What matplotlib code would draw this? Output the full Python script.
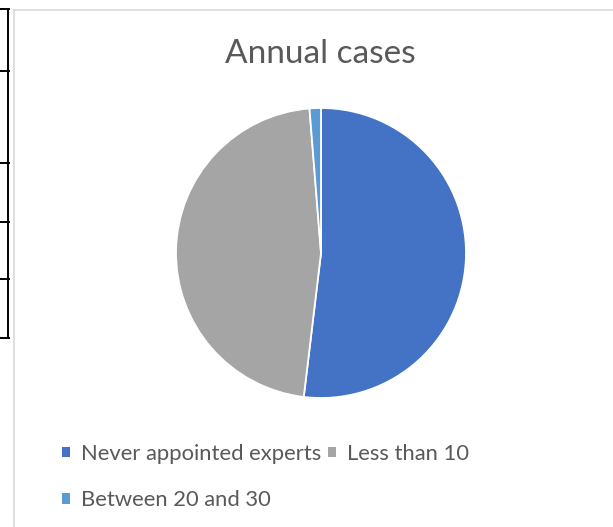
import matplotlib
matplotlib.use("Agg")
import matplotlib.pyplot as plt
from matplotlib.lines import Line2D

plt.rcParams['font.family'] = ['Lato', 'DejaVu Sans']

title = "Annual cases"
categories = ["Never appointed experts", "Less than 10", "Between 20 and 30"]
values = [41, 37, 1]
colors = ["#4472C4", "#A5A5A5", "#5B9BD5"]
text_color = "#595959"

W, H = 613, 527
fig = plt.figure(figsize=(W / 100, H / 100), dpi=100)

def fx(px):
    return px / W

def fy(py):
    return 1 - py / H

# pie axes: center (321, 253), radius 145
cx, cy, r = 321, 253, 145
ax = fig.add_axes([fx(cx - r), fy(cy + r), 2 * r / W, 2 * r / H])
wedges, _ = ax.pie(values, colors=colors, startangle=90, counterclock=False,
                   radius=1, wedgeprops=dict(edgecolor="white", linewidth=1.3))
ax.set_xlim(-1, 1)
ax.set_ylim(-1, 1)
ax.set_aspect("equal")
ax.axis("off")

# title
fig.text(fx(320), fy(63), title, ha="center", va="baseline",
         fontsize=24, color=text_color)

# legend (row-major order: first row two items, second row one)
order = [0, 2, 1]
leg = fig.legend([wedges[i] for i in order], [categories[i] for i in order],
                 ncol=2, loc="upper left", bbox_to_anchor=(fx(62), fy(444)),
                 frameon=False, fontsize=15.8, labelcolor=text_color,
                 handlelength=0.36, handleheight=0.36, handletextpad=0.5,
                 columnspacing=0.3, labelspacing=1.2, borderpad=0,
                 borderaxespad=0)
for h in leg.legend_handles:
    h.set_edgecolor("none")

# chart-area border (light gray)
border = "#D9D9D9"
fig.add_artist(Line2D([fx(13.5), fx(13.5)], [fy(10), fy(H + 5)],
                      transform=fig.transFigure, color=border, lw=1.2))
fig.add_artist(Line2D([fx(13.5), fx(W + 5)], [fy(10), fy(10)],
                      transform=fig.transFigure, color=border, lw=1.2))

# spreadsheet cell lines at left edge
fig.add_artist(Line2D([fx(8), fx(8)], [fy(9), fy(338)],
                      transform=fig.transFigure, color="black", lw=1.4))
for yy in [9, 71, 163, 222, 279, 338]:
    fig.add_artist(Line2D([fx(-1), fx(8.7)], [fy(yy), fy(yy)],
                          transform=fig.transFigure, color="black", lw=1.4))

fig.savefig("out.png", dpi=100, facecolor="white")
